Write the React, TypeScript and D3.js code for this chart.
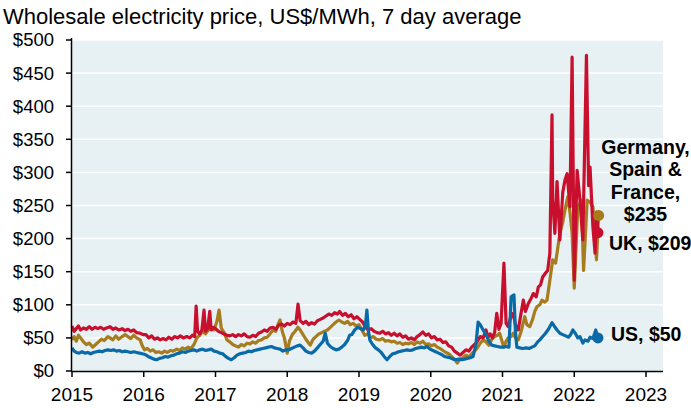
import React, { useEffect } from "react";
import * as d3 from "d3";

// [decimal year, US$/MWh], roughly fortnightly
const ukSeries: [number, number][] = [
  [2015.0, 68], [2015.03, 60], [2015.06, 64], [2015.09, 68], [2015.12, 62], [2015.16, 65], [2015.2, 63], [2015.24, 67],
  [2015.28, 63], [2015.32, 66], [2015.36, 64], [2015.4, 66], [2015.44, 63], [2015.48, 65], [2015.53, 67], [2015.57, 63],
  [2015.61, 65], [2015.65, 62], [2015.7, 64], [2015.74, 61], [2015.78, 63], [2015.82, 60], [2015.86, 62], [2015.9, 58],
  [2015.95, 57], [2015.99, 55],
  [2016.03, 55], [2016.07, 50], [2016.11, 53], [2016.15, 48], [2016.19, 50], [2016.23, 47], [2016.27, 49], [2016.31, 47],
  [2016.35, 51], [2016.39, 48], [2016.43, 52], [2016.47, 50], [2016.51, 53], [2016.55, 50], [2016.6, 52], [2016.64, 50],
  [2016.68, 54], [2016.71, 52], [2016.73, 98], [2016.75, 60], [2016.78, 56], [2016.81, 62], [2016.84, 92], [2016.86, 60],
  [2016.89, 64], [2016.92, 90], [2016.94, 62], [2016.97, 66],
  [2017.0, 64], [2017.04, 60], [2017.08, 58], [2017.12, 56], [2017.16, 54], [2017.2, 53], [2017.24, 55], [2017.28, 52],
  [2017.32, 55], [2017.36, 53], [2017.4, 56], [2017.44, 52], [2017.48, 51], [2017.52, 54], [2017.56, 52], [2017.6, 57],
  [2017.64, 59], [2017.68, 62], [2017.72, 60], [2017.76, 65], [2017.8, 66], [2017.84, 63], [2017.88, 69], [2017.92, 71],
  [2017.96, 68],
  [2018.0, 72], [2018.04, 70], [2018.08, 74], [2018.12, 72], [2018.15, 101], [2018.18, 76], [2018.22, 72], [2018.26, 75],
  [2018.3, 70], [2018.34, 73], [2018.38, 71], [2018.42, 76], [2018.46, 78], [2018.5, 80], [2018.54, 83], [2018.58, 86],
  [2018.62, 84], [2018.66, 88], [2018.7, 86], [2018.73, 90], [2018.77, 84], [2018.81, 87], [2018.85, 82], [2018.89, 85],
  [2018.93, 79], [2018.97, 82],
  [2019.01, 78], [2019.05, 74], [2019.09, 66], [2019.13, 62], [2019.17, 64], [2019.21, 60], [2019.25, 58], [2019.29, 57],
  [2019.33, 60], [2019.37, 56], [2019.41, 58], [2019.45, 54], [2019.49, 57], [2019.53, 53], [2019.57, 56], [2019.61, 51],
  [2019.65, 53], [2019.69, 48], [2019.73, 50], [2019.77, 47], [2019.81, 52], [2019.85, 55], [2019.89, 59], [2019.93, 54],
  [2019.97, 56],
  [2020.01, 50], [2020.05, 52], [2020.09, 47], [2020.13, 48], [2020.17, 43], [2020.21, 44], [2020.25, 38], [2020.29, 36],
  [2020.33, 30], [2020.37, 27], [2020.41, 24], [2020.45, 28], [2020.49, 32], [2020.53, 30], [2020.57, 36], [2020.61, 40],
  [2020.65, 45], [2020.69, 52], [2020.73, 50], [2020.77, 62], [2020.8, 51], [2020.83, 56], [2020.86, 50], [2020.89, 58],
  [2020.92, 87], [2020.95, 63], [2020.98, 72],
  [2021.02, 163], [2021.05, 72], [2021.08, 67], [2021.11, 80], [2021.15, 87], [2021.18, 70], [2021.22, 62], [2021.25, 82],
  [2021.29, 107], [2021.32, 90], [2021.36, 102], [2021.4, 110], [2021.43, 117], [2021.47, 112], [2021.5, 127],
  [2021.53, 130], [2021.56, 142], [2021.6, 148], [2021.63, 152], [2021.66, 178], [2021.69, 387], [2021.7, 258],
  [2021.73, 208], [2021.76, 286], [2021.8, 198], [2021.84, 270], [2021.87, 288], [2021.9, 298], [2021.94, 248],
  [2021.97, 474],
  [2022.0, 137], [2022.04, 303], [2022.08, 258], [2022.12, 198], [2022.17, 477], [2022.2, 280], [2022.22, 308],
  [2022.26, 218], [2022.29, 178], [2022.31, 240], [2022.33, 209],
];

const euSeries: [number, number][] = [
  [2015.0, 47], [2015.03, 52], [2015.06, 45], [2015.09, 54], [2015.12, 50], [2015.16, 44], [2015.2, 40], [2015.24, 42],
  [2015.29, 36], [2015.33, 40], [2015.37, 44], [2015.41, 48], [2015.45, 46], [2015.5, 52], [2015.53, 50], [2015.57, 47],
  [2015.61, 53], [2015.65, 48], [2015.7, 52], [2015.74, 55], [2015.78, 52], [2015.82, 49], [2015.86, 54], [2015.9, 50],
  [2015.95, 47], [2015.98, 38],
  [2016.01, 32], [2016.05, 34], [2016.09, 30], [2016.13, 32], [2016.17, 28], [2016.21, 29], [2016.25, 27], [2016.29, 30],
  [2016.33, 28], [2016.37, 31], [2016.41, 30], [2016.46, 33], [2016.5, 31], [2016.54, 35], [2016.58, 33], [2016.62, 36],
  [2016.66, 34], [2016.7, 40], [2016.74, 50], [2016.78, 54], [2016.82, 60], [2016.86, 56], [2016.9, 62], [2016.94, 64],
  [2016.98, 62],
  [2017.02, 75], [2017.05, 92], [2017.08, 65], [2017.12, 58], [2017.16, 47], [2017.2, 44], [2017.24, 40], [2017.28, 38],
  [2017.32, 36], [2017.36, 40], [2017.4, 38], [2017.44, 42], [2017.48, 41], [2017.52, 44], [2017.56, 42], [2017.6, 46],
  [2017.64, 47], [2017.68, 50], [2017.72, 51], [2017.76, 56], [2017.8, 62], [2017.84, 60], [2017.87, 70], [2017.9, 77],
  [2017.93, 60], [2017.96, 50],
  [2018.0, 27], [2018.03, 45], [2018.07, 55], [2018.11, 60], [2018.15, 66], [2018.18, 62], [2018.22, 55], [2018.26, 48],
  [2018.3, 42], [2018.32, 39], [2018.36, 48], [2018.4, 52], [2018.44, 56], [2018.48, 58], [2018.52, 60], [2018.56, 62],
  [2018.6, 66], [2018.64, 70], [2018.68, 74], [2018.72, 77], [2018.76, 74], [2018.8, 72], [2018.84, 75], [2018.88, 70],
  [2018.92, 72], [2018.96, 68],
  [2019.0, 70], [2019.04, 62], [2019.08, 54], [2019.12, 56], [2019.16, 50], [2019.2, 52], [2019.24, 48], [2019.29, 47],
  [2019.33, 49], [2019.37, 45], [2019.41, 46], [2019.45, 44], [2019.49, 45], [2019.53, 42], [2019.57, 43], [2019.61, 40],
  [2019.65, 42], [2019.69, 41], [2019.73, 43], [2019.77, 40], [2019.81, 44], [2019.85, 42], [2019.89, 45], [2019.93, 40],
  [2019.97, 41],
  [2020.01, 38], [2020.05, 40], [2020.09, 36], [2020.13, 34], [2020.17, 31], [2020.21, 28], [2020.25, 26], [2020.29, 22],
  [2020.33, 18], [2020.37, 12], [2020.41, 18], [2020.45, 20], [2020.49, 24], [2020.53, 21], [2020.57, 26], [2020.61, 30],
  [2020.65, 35], [2020.69, 42], [2020.73, 47], [2020.77, 44], [2020.81, 39], [2020.85, 48], [2020.89, 52], [2020.93, 54],
  [2020.96, 57], [2020.99, 46],
  [2021.02, 36], [2021.05, 45], [2021.08, 50], [2021.12, 52], [2021.15, 57], [2021.18, 50], [2021.22, 47], [2021.26, 60],
  [2021.31, 82], [2021.34, 70], [2021.38, 67], [2021.42, 78], [2021.45, 90], [2021.48, 97], [2021.52, 100],
  [2021.55, 107], [2021.59, 104], [2021.62, 107], [2021.66, 137], [2021.7, 168], [2021.74, 163], [2021.8, 208],
  [2021.84, 225], [2021.87, 243], [2021.91, 263], [2021.94, 240], [2021.97, 208],
  [2022.0, 125], [2022.05, 248], [2022.1, 258], [2022.13, 152], [2022.18, 258], [2022.22, 255], [2022.26, 248],
  [2022.31, 168], [2022.34, 235],
];

const usSeries: [number, number][] = [
  [2015.0, 35], [2015.03, 30], [2015.06, 28], [2015.1, 27], [2015.14, 29], [2015.18, 27], [2015.22, 28], [2015.26, 26],
  [2015.3, 28], [2015.34, 29], [2015.38, 30], [2015.42, 29], [2015.46, 31], [2015.5, 32], [2015.54, 31], [2015.58, 32],
  [2015.62, 30], [2015.66, 31], [2015.7, 29], [2015.74, 30], [2015.78, 29], [2015.82, 28], [2015.86, 29], [2015.9, 28],
  [2015.94, 27], [2015.98, 26],
  [2016.02, 25], [2016.06, 22], [2016.1, 20], [2016.14, 18], [2016.18, 17], [2016.22, 19], [2016.26, 20], [2016.3, 22],
  [2016.34, 21], [2016.38, 23], [2016.42, 24], [2016.46, 26], [2016.5, 27], [2016.54, 29], [2016.58, 28], [2016.62, 30],
  [2016.66, 31], [2016.7, 32], [2016.74, 30], [2016.78, 32], [2016.82, 33], [2016.86, 31], [2016.9, 32], [2016.94, 33],
  [2016.98, 30],
  [2017.02, 29], [2017.06, 27], [2017.1, 26], [2017.14, 22], [2017.18, 19], [2017.22, 17], [2017.26, 20], [2017.3, 24],
  [2017.34, 26], [2017.38, 27], [2017.42, 28], [2017.46, 30], [2017.5, 29], [2017.54, 31], [2017.58, 32], [2017.62, 33],
  [2017.66, 34], [2017.7, 35], [2017.74, 36], [2017.78, 37], [2017.82, 35], [2017.86, 34], [2017.9, 33], [2017.94, 30],
  [2017.98, 32],
  [2018.02, 32], [2018.06, 34], [2018.1, 36], [2018.14, 38], [2018.18, 39], [2018.22, 35], [2018.26, 30], [2018.3, 28],
  [2018.34, 27], [2018.38, 30], [2018.42, 35], [2018.46, 40], [2018.5, 45], [2018.53, 57], [2018.56, 42], [2018.6, 37],
  [2018.64, 34], [2018.68, 32], [2018.72, 33], [2018.76, 36], [2018.8, 40], [2018.84, 46], [2018.87, 54], [2018.9, 55],
  [2018.94, 62], [2018.98, 66],
  [2019.02, 64], [2019.06, 62], [2019.09, 70], [2019.11, 92], [2019.13, 62], [2019.15, 47], [2019.19, 40], [2019.23, 35],
  [2019.27, 32], [2019.31, 28], [2019.35, 22], [2019.39, 17], [2019.43, 22], [2019.47, 26], [2019.51, 27], [2019.55, 29],
  [2019.59, 30], [2019.63, 31], [2019.67, 32], [2019.71, 31], [2019.75, 32], [2019.79, 34], [2019.83, 35], [2019.87, 36],
  [2019.91, 35], [2019.95, 37], [2019.99, 33],
  [2020.03, 31], [2020.07, 29], [2020.11, 27], [2020.15, 25], [2020.19, 22], [2020.23, 21], [2020.27, 20], [2020.31, 18],
  [2020.35, 17], [2020.39, 18], [2020.43, 17], [2020.47, 18], [2020.51, 19], [2020.55, 20], [2020.59, 22], [2020.63, 40],
  [2020.66, 74], [2020.69, 70], [2020.73, 62], [2020.77, 55], [2020.81, 45], [2020.85, 39], [2020.89, 38], [2020.93, 37],
  [2020.97, 36],
  [2021.01, 36], [2021.05, 37], [2021.09, 36], [2021.12, 112], [2021.16, 115], [2021.18, 60], [2021.2, 36], [2021.24, 35],
  [2021.28, 34], [2021.33, 35], [2021.37, 34], [2021.41, 36], [2021.45, 38], [2021.49, 44], [2021.52, 47], [2021.56, 52],
  [2021.6, 57], [2021.64, 63], [2021.69, 73], [2021.72, 68], [2021.76, 62], [2021.8, 57], [2021.84, 55], [2021.88, 53],
  [2021.92, 51], [2021.95, 55], [2021.98, 62],
  [2022.02, 56], [2022.05, 50], [2022.08, 52], [2022.12, 42], [2022.15, 47], [2022.19, 45], [2022.22, 51], [2022.26, 49],
  [2022.3, 62], [2022.33, 50],
];

const yTicks = [0, 50, 100, 150, 200, 250, 300, 350, 400, 450, 500];
const xTicks = [2015, 2016, 2017, 2018, 2019, 2020, 2021, 2022, 2023];
const euLabel = ["Germany,", "Spain &", "France,", "$235"];

const RED = "#c8102e";
const GOLD = "#a67c1f";
const BLUE = "#0a6aa8";

export default function App() {
  useEffect(() => {
    document.body.style.margin = "0";
  }, []);

  const left = 72;
  const right = 663;
  const top = 40;
  const bottom = 371;

  const x = d3.scaleLinear().domain([2015, 2023]).range([left, left + 8 * 71.75]);
  const y = d3.scaleLinear().domain([0, 500]).range([bottom, top]);
  const line = d3
    .line<[number, number]>()
    .x((d) => x(d[0]))
    .y((d) => y(d[1]));

  const font = "Arial, 'Liberation Sans', sans-serif";
  const lastUk = ukSeries[ukSeries.length - 1];
  const lastEu = euSeries[euSeries.length - 1];
  const lastUs = usSeries[usSeries.length - 1];

  return (
    <svg width={691} height={408} style={{ display: "block" }} fontFamily={font}>
      <text x={3} y={24} fontSize={22} fill="#000">
        Wholesale electricity price, US$/MWh, 7 day average
      </text>
      <rect x={left} y={top} width={right - left} height={bottom - top} fill="#e7f0f3" />
      {yTicks.slice(1).map((t) => (
        <line key={t} x1={left} x2={right} y1={y(t)} y2={y(t)} stroke="#fff" strokeWidth={1.5} />
      ))}
      <path d={line(euSeries) || ""} fill="none" stroke={GOLD} strokeWidth={3.2} strokeLinejoin="round" />
      <path d={line(ukSeries) || ""} fill="none" stroke={RED} strokeWidth={3.2} strokeLinejoin="round" />
      <path d={line(usSeries) || ""} fill="none" stroke={BLUE} strokeWidth={3.2} strokeLinejoin="round" />
      <circle cx={x(lastEu[0])} cy={y(lastEu[1])} r={5.5} fill={GOLD} />
      <circle cx={x(lastUk[0])} cy={y(lastUk[1])} r={5.5} fill={RED} />
      <circle cx={x(lastUs[0])} cy={y(lastUs[1])} r={5.5} fill={BLUE} />

      {/* axes */}
      <line x1={left - 0.5} x2={left - 0.5} y1={top - 2} y2={bottom} stroke="#000" strokeWidth={1.5} />
      <line x1={left - 1} x2={right} y1={bottom + 0.5} y2={bottom + 0.5} stroke="#000" strokeWidth={1.5} />
      {yTicks.map((t) => (
        <g key={t}>
          <line x1={left - 6} x2={left} y1={y(t)} y2={y(t)} stroke="#000" strokeWidth={1.5} />
          <text x={54} y={y(t)} dy="0.35em" textAnchor="end" fontSize={18.5}>
            ${t}
          </text>
        </g>
      ))}
      {xTicks.map((t) => (
        <g key={t}>
          <line x1={x(t)} x2={x(t)} y1={bottom} y2={bottom + 6} stroke="#000" strokeWidth={1.5} />
          <text x={x(t)} y={401} textAnchor="middle" fontSize={19}>
            {t}
          </text>
        </g>
      ))}

      {/* end labels */}
      <g fontWeight="bold" fontSize={19.5} textAnchor="middle">
        {euLabel.map((s, i) => (
          <text key={s} x={645.5} y={154 + i * 22.3}>
            {s}
          </text>
        ))}
      </g>
      <text x={609} y={250} fontWeight="bold" fontSize={19.5}>
        UK, $209
      </text>
      <text x={611} y={341} fontWeight="bold" fontSize={19.5}>
        US, $50
      </text>
    </svg>
  );
}
